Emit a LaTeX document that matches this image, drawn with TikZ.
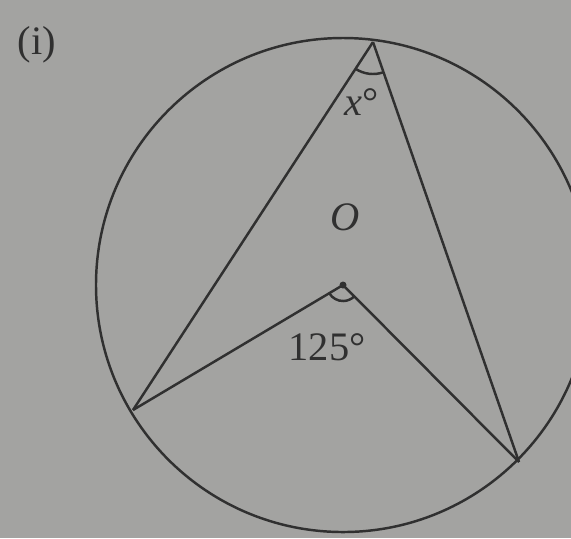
\documentclass[tikz,border=0pt]{standalone}
\usepackage{fontspec}
\setmainfont{Liberation Serif}
\definecolor{paper}{HTML}{A3A3A1}
\definecolor{ink}{HTML}{303030}
\begin{document}
\begin{tikzpicture}
  [x=0.01cm,y=0.01cm,line width=0.7pt,
   every node/.style={text=ink,inner sep=0pt,font=\fontsize{11.5}{14}\selectfont}]
  \fill[paper] (0,0) rectangle (571,538);
  \useasboundingbox (0,0) rectangle (571,538);
  \clip (0,0) rectangle (571,538);

  \coordinate (O) at (343,253);
  \coordinate (A) at (373,496);
  \coordinate (B) at (133,128);
  \coordinate (C) at (519,76);

  \draw[ink] (O) circle[radius=247];
  \foreach \from/\to in {A/B, A/C, O/B, O/C}
    \draw[ink] (\from) -- (\to);

  % angle marks
  \draw[ink] ([shift=(237:32)]A) arc[start angle=237,end angle=289,radius=32];
  \draw[ink] ([shift=(211:16)]O) arc[start angle=211,end angle=315,radius=16];
  \fill[ink] (O) circle[radius=3.5];

  \node (lbl) at (37,493) {(i)};
  \node (xa) at (362,436) {\textit{x}°};
  \node (lo) at (345,321) {\textit{O}};
  \node (ang) at (327,191) {125°};
\end{tikzpicture}
\end{document}
